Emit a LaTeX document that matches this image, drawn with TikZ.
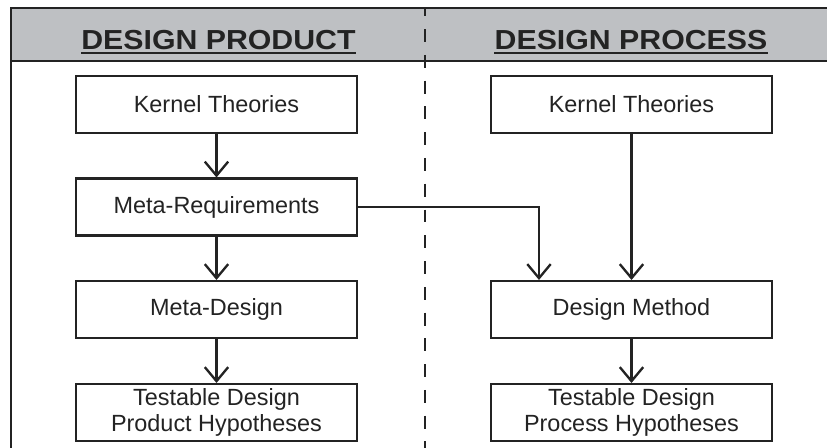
\documentclass[tikz,border=0pt]{standalone}
\usepackage{fontspec}
\setmainfont{Liberation Sans}
\newfontfamily\headfont{Liberation Sans}[FakeStretch=1.1]
\usetikzlibrary{arrows.meta}

\definecolor{bandgray}{RGB}{190,192,195}
\definecolor{ink}{RGB}{35,35,35}

\begin{document}
\begin{tikzpicture}[x=0.03cm,y=-0.03cm,
		box/.style={draw=ink,line width=2pt,fill=white,minimum width=8.43cm,minimum height=1.7cm,
			align=center,text=ink,font=\fontsize{20}{22}\selectfont},
		head/.style={inner sep=0pt,anchor=base,text=ink,font=\headfont\bfseries\fontsize{23.5}{27}\selectfont},
		arr/.style={-{Straight Barb[length=12pt,width=20pt,line width=2pt]},draw=ink,line width=2pt}]
	\useasboundingbox (0,0) rectangle (827,448);
	%\draw [help lines,step=50] (0,0) grid (827,448);

	% header band and frame
	\fill[bandgray] (11,8) rectangle (827,61);
	\draw[ink,line width=2.2pt] (827,8) -- (11,8) -- (11,448);
	\draw[ink,line width=2.3pt] (11,61) -- (827,61);
	\draw[ink,line width=1.8pt,dash pattern=on 11pt off 11pt,dash phase=4pt] (425,8) -- (425,448);

	\node[head] (hprod) at (218.5,49) {DESIGN PRODUCT};
	\node[head] (hproc) at (631,49) {DESIGN PROCESS};
	\draw[ink,line width=1.9pt] ([yshift=-3.5pt]hprod.base west) -- ([yshift=-3.5pt]hprod.base east);
	\draw[ink,line width=1.9pt] ([yshift=-3.5pt]hproc.base west) -- ([yshift=-3.5pt]hproc.base east);

	% product side
	\node[box] (kl) at (216.5,104.5) {Kernel Theories};
	\node[box] (mr) at (216.5,207) {Meta-Requirements};
	\node[box] (md) at (216.5,309.5) {Meta-Design};
	\node[box] (th) at (216.5,412.5) {Testable Design\\Product Hypotheses};

	% process side
	\node[box] (kr) at (631.5,104.5) {Kernel Theories};
	\node[box] (dm) at (631.5,309.5) {Design Method};
	\node[box] (tp) at (631.5,412.5) {Testable Design\\Process Hypotheses};

	\draw[arr] (kl) -- (mr);
	\draw[arr] (mr) -- (md);
	\draw[arr] (md) -- (th);
	\draw[arr] (kr) -- (dm);
	\draw[arr] (dm) -- (tp);

	\coordinate (bend) at (539,207);
	\draw[arr] (mr.east) -- (bend) -- (bend |- dm.north);
\end{tikzpicture}
\end{document}
